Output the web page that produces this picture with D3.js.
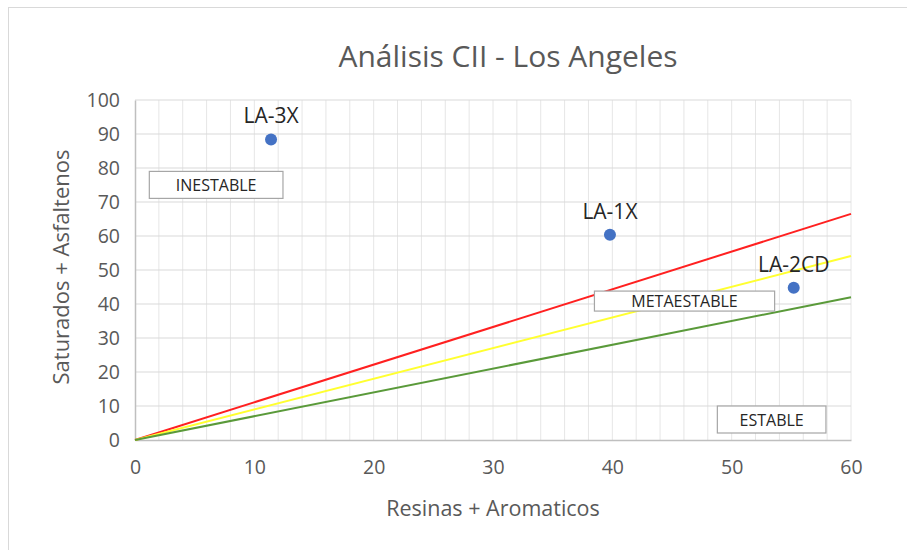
<!DOCTYPE html>
<html>
<head>
<meta charset="utf-8">
<script src="https://cdn.jsdelivr.net/npm/d3@7"></script>
<style>
  body { margin: 0; background: #fff; }
  svg { display: block; font-family: "Open Sans", sans-serif; }
</style>
</head>
<body>
<svg class="chart" width="907" height="550"></svg>
<script>
const sampleNames = ['LA-3X', 'LA-1X', 'LA-2CD'];
const resinasAromaticos = [11.4, 39.8, 55.2];
const saturadosAsfaltenos = [88.4, 60.4, 44.8];

const lineNames = ['Inestable', 'Metaestable', 'Estable'];
const lineColors = ['#ff2020', '#ffff30', '#5a9a3a'];
const lineX = [0, 60];
const lineY = [[0, 66.5], [0, 54.1], [0, 42]];

const zoneNames = ['INESTABLE', 'METAESTABLE', 'ESTABLE'];
const zoneX = [1.2, 38.5, 48.8];
const zoneY = [79, 43.8, 10];
const zoneW = [11.2, 15.1, 9.1];

const xTicks = [0, 10, 20, 30, 40, 50, 60];
const yTicks = [0, 10, 20, 30, 40, 50, 60, 70, 80, 90, 100];

const startApp = () => {
  const margin = { top: 100, left: 135, bottom: 110, right: 56 };
  const viewBox = { width: 907, height: 550 };
  const width = viewBox.width - margin.left - margin.right;
  const height = viewBox.height - margin.top - margin.bottom;
  const xScale = d3.scaleLinear().domain([0, 60]).range([0, width]);
  const yScale = d3.scaleLinear().domain([0, 100]).range([height, 0]);

  const svg = d3.select('.chart');

  // chart frame
  svg.append('rect')
    .attr('x', 8.5).attr('y', 7.5)
    .attr('width', 920).attr('height', 560)
    .attr('fill', '#fff')
    .attr('stroke', '#d9d9d9');

  svg.append('text')
    .attr('x', 508).attr('y', 67)
    .attr('text-anchor', 'middle')
    .attr('font-size', 30)
    .attr('fill', '#595959')
    .text('Análisis CII - Los Angeles');

  const chart = svg.append('g')
    .attr('transform', `translate(${margin.left}, ${margin.top})`);

  // gridlines
  chart.append('g')
    .selectAll('line')
    .data(d3.range(2, 61, 2))
    .enter()
    .append('line')
    .attr('x1', d => xScale(d)).attr('x2', d => xScale(d))
    .attr('y1', 0).attr('y2', height)
    .attr('stroke', '#e6e6e6');
  chart.append('g')
    .selectAll('line')
    .data(yTicks.slice(1))
    .enter()
    .append('line')
    .attr('x1', 0).attr('x2', width)
    .attr('y1', d => yScale(d)).attr('y2', d => yScale(d))
    .attr('stroke', '#d9d9d9');

  const xAxis = d3.axisBottom(xScale).tickValues(xTicks).tickSize(0).tickPadding(20);
  const yAxis = d3.axisLeft(yScale).tickValues(yTicks).tickSize(0).tickPadding(15);

  const gx = chart.append('g')
    .attr('transform', `translate(0, ${height})`)
    .call(xAxis);
  const gy = chart.append('g').call(yAxis);
  [gx, gy].forEach((g) => {
    g.select('.domain').attr('stroke', '#bfbfbf').attr('stroke-width', 1.5);
    g.selectAll('text')
      .attr('font-family', '"Open Sans", sans-serif')
      .attr('font-size', 19.5)
      .attr('fill', '#595959');
  });

  // classification lines
  const line = d3.line()
    .x((d, i) => xScale(lineX[i]))
    .y(d => yScale(d));
  chart.append('g')
    .selectAll('path')
    .data(lineY)
    .enter()
    .append('path')
    .attr('d', d => line(d))
    .attr('fill', 'none')
    .attr('stroke', (d, i) => lineColors[i])
    .attr('stroke-width', 2);

  // zone boxes
  const zones = chart.append('g')
    .selectAll('g')
    .data(zoneNames)
    .enter()
    .append('g');
  zones.append('rect')
    .attr('x', (d, i) => xScale(zoneX[i]))
    .attr('y', (d, i) => yScale(zoneY[i]))
    .attr('width', (d, i) => xScale(zoneW[i]))
    .attr('height', (d, i) => (i === 1 ? 20 : 27))
    .attr('fill', '#fff')
    .attr('stroke', '#a6a6a6')
    .attr('stroke-width', 1.2);
  zones.append('text')
    .attr('x', (d, i) => xScale(zoneX[i] + zoneW[i] / 2))
    .attr('y', (d, i) => yScale(zoneY[i]) + (i === 1 ? 16 : 19.5))
    .attr('text-anchor', 'middle')
    .attr('font-size', 16)
    .attr('fill', '#262626')
    .text(d => d);

  // samples
  chart.append('g')
    .selectAll('circle')
    .data(sampleNames)
    .enter()
    .append('circle')
    .attr('cx', (d, i) => xScale(resinasAromaticos[i]))
    .attr('cy', (d, i) => yScale(saturadosAsfaltenos[i]))
    .attr('r', 6)
    .attr('fill', '#4472c4');
  chart.append('g')
    .selectAll('text')
    .data(sampleNames)
    .enter()
    .append('text')
    .attr('x', (d, i) => xScale(resinasAromaticos[i]))
    .attr('y', (d, i) => yScale(saturadosAsfaltenos[i]) - 16)
    .attr('text-anchor', 'middle')
    .attr('font-size', 21)
    .attr('fill', '#262626')
    .text(d => d);

  // axis titles
  svg.append('text')
    .attr('x', 493).attr('y', 516)
    .attr('text-anchor', 'middle')
    .attr('font-size', 21.5)
    .attr('fill', '#595959')
    .text('Resinas + Aromaticos');
  svg.append('text')
    .attr('transform', `translate(69, ${margin.top + height / 2 - 3}) rotate(-90)`)
    .attr('text-anchor', 'middle')
    .attr('font-size', 22)
    .attr('fill', '#595959')
    .text('Saturados + Asfaltenos');
};

window.onload = startApp;
</script>
</body>
</html>
